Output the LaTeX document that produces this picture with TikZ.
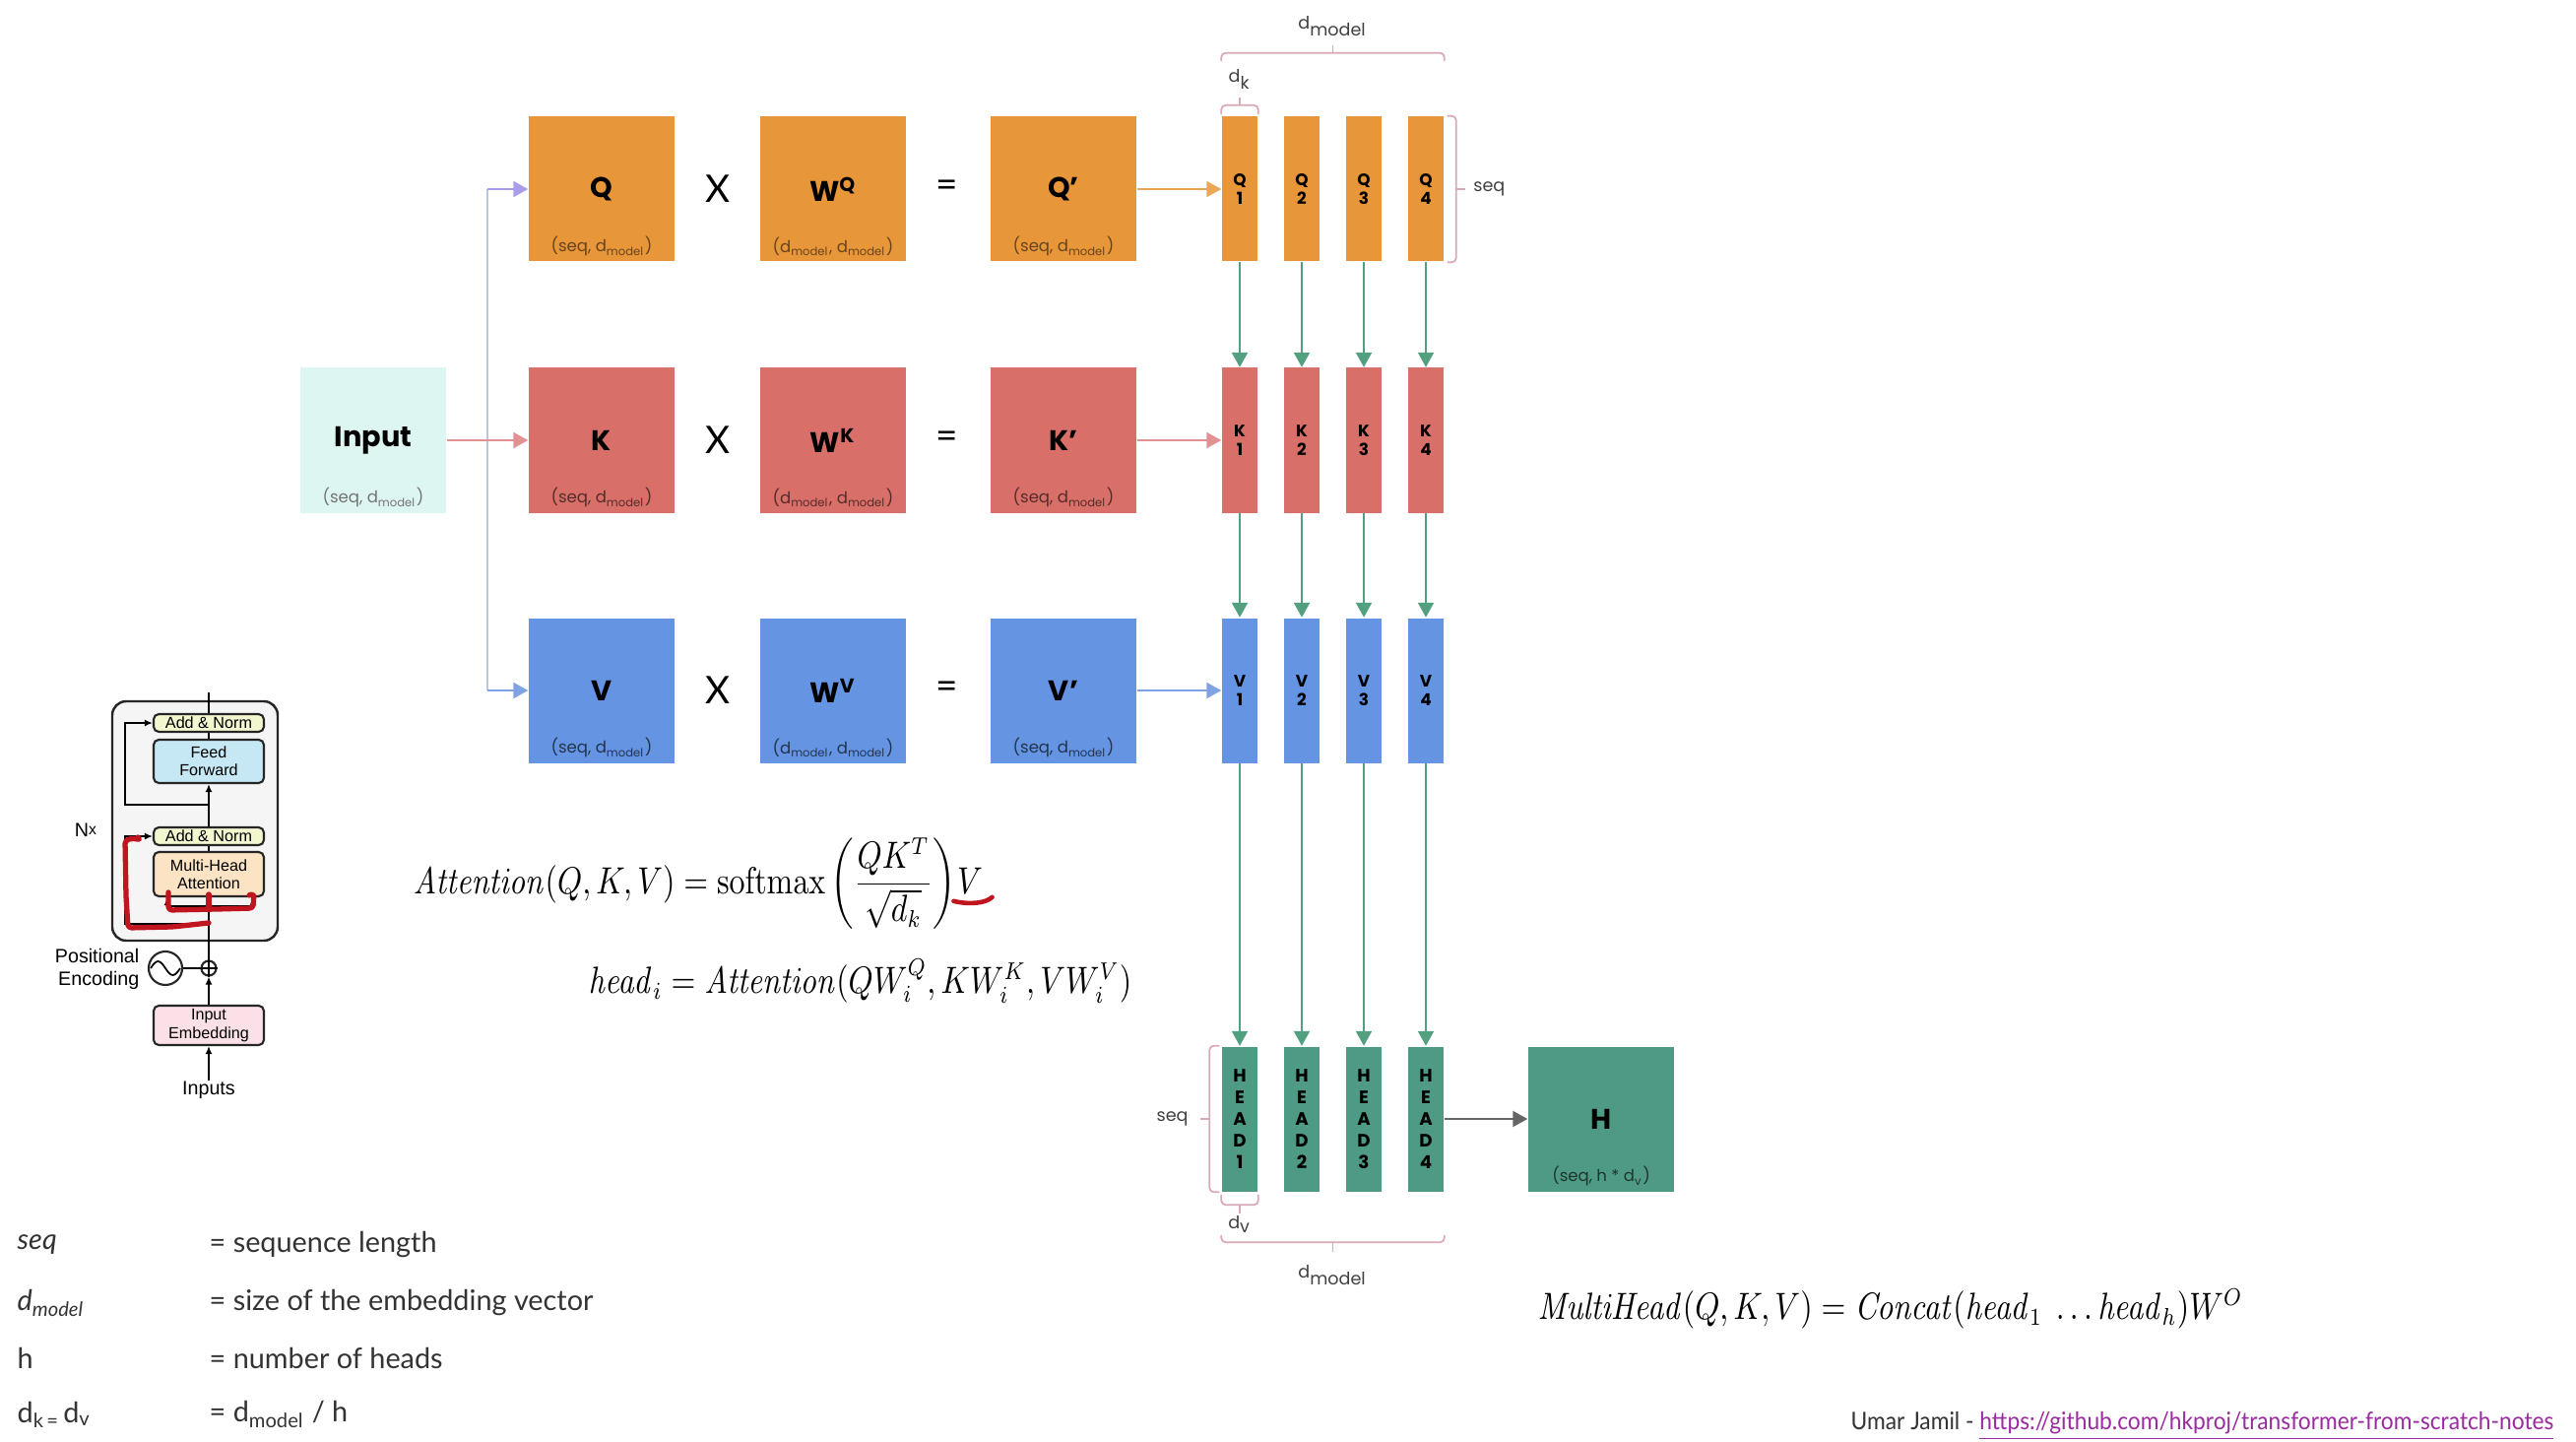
\documentclass[tikz,border=0pt]{standalone}
\usepackage{amsmath}
\usepackage[no-math]{fontspec}
\setmainfont{Poppins}
\newfontfamily\lato{Lato}
\newfontfamily\helv{Liberation Sans}
\usetikzlibrary{positioning, arrows.meta, calc}

\definecolor{qorange}{HTML}{E8963A}
\definecolor{kred}{HTML}{D86F69}
\definecolor{vblue}{HTML}{6494E2}
\definecolor{hgreen}{HTML}{4F9A84}
\definecolor{incyan}{HTML}{DEF6F2}
\definecolor{agreen}{HTML}{52A080}
\definecolor{bracecol}{HTML}{D9A9B6}
\definecolor{qline}{HTML}{A99CE9}
\definecolor{kline}{HTML}{E19191}
\definecolor{vline}{HTML}{7FA3E3}
\definecolor{splitcol}{HTML}{BCC7DE}
\definecolor{addnorm}{HTML}{F3F6CF}
\definecolor{ffblue}{HTML}{C6E7F4}
\definecolor{mhaorange}{HTML}{FBE3C3}
\definecolor{embpink}{HTML}{FBE1E7}
\definecolor{markred}{HTML}{C0141E}
\definecolor{linkpurple}{HTML}{9B2BA0}

\newcommand{\narrow}[1]{\scalebox{0.83}[1]{#1}}

\begin{document}
\begin{tikzpicture}[
  mat/.style={
    minimum width=1.48cm, minimum height=1.47cm, inner sep=0pt,
    font=\bfseries\fontsize{8.2}{10}\selectfont
  },
  dims/.style={font=\fontsize{4.7}{5}\selectfont, inner sep=0pt},
  slice/.style={
    minimum width=0.36cm, minimum height=1.47cm, inner sep=0pt,
    align=center, font=\bfseries\fontsize{4.8}{5.6}\selectfont
  },
  headslice/.style={slice, fill=hgreen,
    font=\bfseries\fontsize{5.2}{6.3}\selectfont
  },
  op/.style={font=\lato\fontsize{11}{12}\selectfont},
  flow/.style={-{Triangle[length=1.5mm, width=1.6mm]}, line width=0.6pt},
  bracket/.style={draw=bracecol, line width=0.5pt, rounded corners=1.2pt},
  blabel/.style={font=\fontsize{5}{6}\selectfont, text=black!75, inner sep=0pt},
  tblock/.style={
    draw=black!85, line width=0.6pt, rounded corners=1.5pt,
    minimum width=1.12cm, inner sep=0pt, align=center,
    font=\helv\fontsize{4.6}{5.2}\selectfont
  },
  tarrow/.style={-{Latex[length=0.8mm, width=0.7mm]}, line width=0.5pt},
  marker/.style={draw=markred, line width=1.5pt, line cap=round,
    line join=round, rounded corners=1pt},
  formula/.style={inner sep=0pt, font=\fontsize{10.5}{12}\selectfont},
  legend/.style={anchor=west, inner sep=0pt,
    font=\lato\fontsize{8.2}{9}\selectfont, text=black!80},
]
\fill[white] (0,0) rectangle (26.16,-14.64);
\useasboundingbox (0,0) rectangle (26.16,-14.64);

% input
\node[mat, fill=incyan] (input) at (3.79,-4.47) {Input};
\node[dims, text=black!55] (inputdim) at ([yshift=1.6mm]input.south) {(seq, d\textsubscript{model})};

% Q row
\node[mat, fill=qorange] (Q)  at (6.11,-1.92)  {Q};
\node[op]                (qx) at (7.29,-1.92)  {X};
\node[mat, fill=qorange] (WQ) at (8.46,-1.92)  {W\textsuperscript{Q}};
\node[op]                (qeq) at (9.62,-1.92) {=};
\node[mat, fill=qorange] (Qp) at (10.80,-1.92) {Q’};
\node[dims, text=qorange!45!black] (Qdim)  at ([yshift=1.6mm]Q.south)  {(seq, d\textsubscript{model})};
\node[dims, text=qorange!45!black] (WQdim) at ([yshift=1.6mm]WQ.south) {(d\textsubscript{model}, d\textsubscript{model})};
\node[dims, text=qorange!45!black] (Qpdim) at ([yshift=1.6mm]Qp.south) {(seq, d\textsubscript{model})};

% K row
\node[mat, fill=kred] (K)  at (6.11,-4.47)  {K};
\node[op]             (kx) at (7.29,-4.47)  {X};
\node[mat, fill=kred] (WK) at (8.46,-4.47)  {W\textsuperscript{K}};
\node[op]             (keq) at (9.62,-4.47) {=};
\node[mat, fill=kred] (Kp) at (10.80,-4.47) {K’};
\node[dims, text=kred!40!black] (Kdim)  at ([yshift=1.6mm]K.south)  {(seq, d\textsubscript{model})};
\node[dims, text=kred!40!black] (WKdim) at ([yshift=1.6mm]WK.south) {(d\textsubscript{model}, d\textsubscript{model})};
\node[dims, text=kred!40!black] (Kpdim) at ([yshift=1.6mm]Kp.south) {(seq, d\textsubscript{model})};

% V row
\node[mat, fill=vblue] (V)  at (6.11,-7.01)  {V};
\node[op]              (vx) at (7.29,-7.01)  {X};
\node[mat, fill=vblue] (WV) at (8.46,-7.01)  {W\textsuperscript{V}};
\node[op]              (veq) at (9.62,-7.01) {=};
\node[mat, fill=vblue] (Vp) at (10.80,-7.01) {V’};
\node[dims, text=vblue!35!black] (Vdim)  at ([yshift=1.6mm]V.south)  {(seq, d\textsubscript{model})};
\node[dims, text=vblue!35!black] (WVdim) at ([yshift=1.6mm]WV.south) {(d\textsubscript{model}, d\textsubscript{model})};
\node[dims, text=vblue!35!black] (Vpdim) at ([yshift=1.6mm]Vp.south) {(seq, d\textsubscript{model})};

% input fan-out
\coordinate (splitq) at (4.95,-1.92);
\coordinate (splitv) at (4.95,-7.01);
\draw[line width=0.6pt, draw=splitcol] (splitq) -- (splitv);
\draw[flow, draw=qline] (splitq) -- (Q);
\draw[flow, draw=kline] (input) -- (K);
\draw[flow, draw=vline] (splitv) -- (V);

% split into heads
\node[slice, fill=qorange] (q1) at (12.59,-1.92) {Q\\1};
\node[slice, fill=qorange] (q2) at (13.22,-1.92) {Q\\2};
\node[slice, fill=qorange] (q3) at (13.85,-1.92) {Q\\3};
\node[slice, fill=qorange] (q4) at (14.48,-1.92) {Q\\4};
\node[slice, fill=kred] (k1) at (12.59,-4.47) {K\\1};
\node[slice, fill=kred] (k2) at (13.22,-4.47) {K\\2};
\node[slice, fill=kred] (k3) at (13.85,-4.47) {K\\3};
\node[slice, fill=kred] (k4) at (14.48,-4.47) {K\\4};
\node[slice, fill=vblue] (v1) at (12.59,-7.01) {V\\1};
\node[slice, fill=vblue] (v2) at (13.22,-7.01) {V\\2};
\node[slice, fill=vblue] (v3) at (13.85,-7.01) {V\\3};
\node[slice, fill=vblue] (v4) at (14.48,-7.01) {V\\4};
\node[headslice] (h1) at (12.59,-11.36) {H\\E\\A\\D\\1};
\node[headslice] (h2) at (13.22,-11.36) {H\\E\\A\\D\\2};
\node[headslice] (h3) at (13.85,-11.36) {H\\E\\A\\D\\3};
\node[headslice] (h4) at (14.48,-11.36) {H\\E\\A\\D\\4};

\draw[flow, draw=qorange!85!white] (Qp) -- (q1);
\draw[flow, draw=kline] (Kp) -- (k1);
\draw[flow, draw=vline] (Vp) -- (v1);

\draw[flow, draw=agreen] (q1) -- (k1);
\draw[flow, draw=agreen] (q2) -- (k2);
\draw[flow, draw=agreen] (q3) -- (k3);
\draw[flow, draw=agreen] (q4) -- (k4);
\draw[flow, draw=agreen] (k1) -- (v1);
\draw[flow, draw=agreen] (k2) -- (v2);
\draw[flow, draw=agreen] (k3) -- (v3);
\draw[flow, draw=agreen] (k4) -- (v4);
\draw[flow, draw=agreen] (v1) -- (h1);
\draw[flow, draw=agreen] (v2) -- (h2);
\draw[flow, draw=agreen] (v3) -- (h3);
\draw[flow, draw=agreen] (v4) -- (h4);

% concatenated output
\node[mat, fill=hgreen] (H) at (16.26,-11.36) {H};
\node[dims, text=hgreen!35!black] (Hdim) at ([yshift=1.6mm]H.south) {(seq, h * d\textsubscript{v})};
\draw[flow, draw=black!60] (h4) -- (H);

% braces, top
\draw[bracket] ([yshift=5.6mm]q1.north west) -- ([yshift=6.4mm]q1.north west)
  -- ([yshift=6.4mm]q4.north east) -- ([yshift=5.6mm]q4.north east);
\coordinate (dmtop) at ($([yshift=6.4mm]q1.north west)!0.5!([yshift=6.4mm]q4.north east)$);
\draw[bracket] (dmtop) -- ++(0,0.08);
\node[blabel] (dmodeltop) at ([yshift=2.7mm]dmtop) {d\textsubscript{model}};
\draw[bracket] ([yshift=0.2mm]q1.north west) -- ([yshift=1.1mm]q1.north west)
  -- ([yshift=1.1mm]q1.north east) -- ([yshift=0.2mm]q1.north east);
\draw[bracket] ([yshift=1.1mm]q1.north) -- ([yshift=1.9mm]q1.north);
\node[blabel] (dk) at ([yshift=3.7mm]q1.north) {d\textsubscript{k}};
\draw[bracket] ([xshift=0.3mm]q4.north east) -- ([xshift=1.2mm]q4.north east)
  -- ([xshift=1.2mm]q4.south east) -- ([xshift=0.3mm]q4.south east);
\draw[bracket] ([xshift=1.2mm]q4.east) -- ([xshift=2.1mm]q4.east);
\node[blabel, anchor=west] (seqtop) at ([xshift=2.9mm]q4.east) {seq};

% braces, bottom
\draw[bracket] ([xshift=-0.2mm]h1.north west) -- ([xshift=-1.2mm]h1.north west)
  -- ([xshift=-1.2mm]h1.south west) -- ([xshift=-0.2mm]h1.south west);
\draw[bracket] ([xshift=-1.2mm]h1.west) -- ([xshift=-2.1mm]h1.west);
\node[blabel, anchor=east] (seqbot) at ([xshift=-3.3mm]h1.west) {seq};
\draw[bracket] ([yshift=-0.3mm]h1.south west) -- ([yshift=-1.3mm]h1.south west)
  -- ([yshift=-1.3mm]h1.south east) -- ([yshift=-0.3mm]h1.south east);
\draw[bracket] ([yshift=-1.3mm]h1.south) -- ([yshift=-2.2mm]h1.south);
\node[blabel] (dv) at ([yshift=-3.3mm]h1.south) {d\textsubscript{v}};
\draw[bracket] ([yshift=-4.4mm]h1.south west) -- ([yshift=-5.1mm]h1.south west)
  -- ([yshift=-5.1mm]h4.south east) -- ([yshift=-4.4mm]h4.south east);
\coordinate (dmbot) at ($([yshift=-5.1mm]h1.south west)!0.5!([yshift=-5.1mm]h4.south east)$);
\draw[bracket] (dmbot) -- ++(0,-0.1);
\node[blabel] (dmodelbot) at ([yshift=-3.3mm]dmbot) {d\textsubscript{model}};

% encoder layer sketch
\node[draw=black!85, line width=0.7pt, fill=black!4, rounded corners=4pt,
  minimum width=1.68cm, minimum height=2.43cm] (layer) at (1.98,-8.335) {};
\node[tblock, fill=addnorm, minimum height=0.18cm] (an1) at (2.12,-7.34) {Add \& Norm};
\node[tblock, fill=ffblue, minimum height=0.44cm] (ff) at (2.12,-7.73) {Feed\\Forward};
\node[tblock, fill=addnorm, minimum height=0.18cm] (an2) at (2.12,-8.49) {Add \& Norm};
\node[tblock, fill=mhaorange, minimum height=0.45cm] (mha) at (2.12,-8.875) {Multi-Head\\Attention};
\node[tblock, fill=embpink, minimum height=0.40cm] (emb) at (2.12,-10.41) {Input\\Embedding};
\node[draw=black!85, circle, minimum size=0.34cm, inner sep=0pt, line width=0.6pt] (pe) at (1.68,-9.83) {};
\node[draw=black!85, circle, minimum size=0.15cm, inner sep=0pt, line width=0.6pt] (plus) at (2.12,-9.83) {};
\node[font=\helv\fontsize{5.6}{6.4}\selectfont, align=right, anchor=east, inner sep=0pt] (pelabel) at (1.42,-9.84) {Positional\\Encoding};
\node[font=\helv\fontsize{5.6}{6.4}\selectfont, inner sep=0pt] (nx) at (0.87,-8.43) {N\raisebox{0.2ex}{\scalebox{0.8}{x}}};
\node[font=\helv\fontsize{5.6}{6.4}\selectfont, inner sep=0pt] (inputs) at (2.12,-11.07) {Inputs};

\draw[line width=0.5pt] ([xshift=-1.5mm]pe.center) sin ++(0.075,0.07) cos ++(0.075,-0.07)
  sin ++(0.075,-0.07) cos ++(0.075,0.07);
\draw[line width=0.5pt] (plus.north) -- (plus.south) (plus.west) -- (plus.east);
\draw[line width=0.6pt] (pe) -- (plus);
\draw[tarrow] (inputs) -- (emb);
\draw[tarrow] (emb) -- (plus);
\draw[tarrow] (plus) -- (mha);
\draw[line width=0.5pt] (mha) -- (an2);
\draw[tarrow] (an2) -- (ff);
\draw[line width=0.5pt] (ff) -- (an1);
\coordinate (out) at (2.12,-7.03);
\draw[line width=0.5pt] (an1) -- (out);
\coordinate (res1) at (2.12,-8.17);
\draw[tarrow] (res1) -- ++(-0.85,0) |- (an1);
\coordinate (res2) at (2.12,-9.38);
\draw[tarrow] (res2) -- ++(-0.85,0) |- (an2);
\coordinate (bl) at (1.70,-9.20);
\coordinate (br) at (2.57,-9.20);
\draw[line width=0.5pt] (bl) -- (br);
\draw[tarrow] (bl) -- (bl |- mha.south);
\draw[tarrow] (br) -- (br |- mha.south);

% red pen marks
\draw[marker] (2.12,-9.37) -- (1.75,-9.41) -- (1.30,-9.42) -- (1.28,-9.10)
  -- (1.27,-8.53) -- (1.36,-8.51) -- (1.43,-8.53) -- (1.40,-8.50);
\draw[marker] (1.71,-9.06) -- (1.71,-9.24) -- (2.20,-9.23) -- (2.57,-9.22)
  -- (2.58,-9.07) -- (2.53,-9.09);
\draw[marker] (2.12,-9.08) -- (2.12,-9.23);

% formulas
\node[formula, anchor=west] (attn) at (4.19,-8.97)
  {\narrow{$\mathit{Attention}(Q,K,V) = \mathrm{softmax}\left(\dfrac{QK^T}{\sqrt{d_k}}\right)$}};
\node[formula, anchor=base west] (attv) at (attn.base east) {\narrow{$V$}};
\draw[marker, line width=1.3pt] ([xshift=-0.3mm, yshift=-0.7mm]attv.south west)
  .. controls ([yshift=-1.1mm]attv.south) and ([xshift=0.3mm, yshift=-0.9mm]attv.south east) .. ([xshift=0.9mm, yshift=-0.3mm]attv.south east);
\node[formula, anchor=west] (headi) at (5.97,-9.96)
  {\narrow{$\mathit{head}_i = \mathit{Attention}(QW_i^Q, KW_i^K, VW_i^V)$}};
\node[formula, anchor=west] (multi) at (15.61,-13.29)
  {\narrow{$\mathit{MultiHead}(Q,K,V) = \mathit{Concat}(\mathit{head}_1\ \ldots\mathit{head}_h)W^O$}};

% legend
\node[legend] (lseq) at (0.17,-12.64) {\textit{seq}};
\node[legend] (ldm) at (0.17,-13.23) {\textit{d\textsubscript{model}}};
\node[legend] (lh) at (0.17,-13.79) {h};
\node[legend] (ldk) at (0.17,-14.36) {d\textsubscript{k\,=\,}d\textsubscript{v}};
\node[legend] (lseqt) at (2.12,-12.64) {= sequence length};
\node[legend] (ldmt) at (2.12,-13.23) {= size of the embedding vector};
\node[legend] (lht) at (2.12,-13.79) {= number of heads};
\node[legend] (ldkt) at (2.12,-14.36) {= d\textsubscript{model} / h};

% credit
\node[anchor=east, inner sep=0pt, font=\lato\fontsize{7}{8}\selectfont, text=black!80] (credit) at (25.94,-14.48)
  {\scalebox{0.925}[1]{Umar Jamil - \textcolor{linkpurple}{\underline{https://github.com/hkproj/transformer-from-scratch-notes}}}};

\end{tikzpicture}
\end{document}
